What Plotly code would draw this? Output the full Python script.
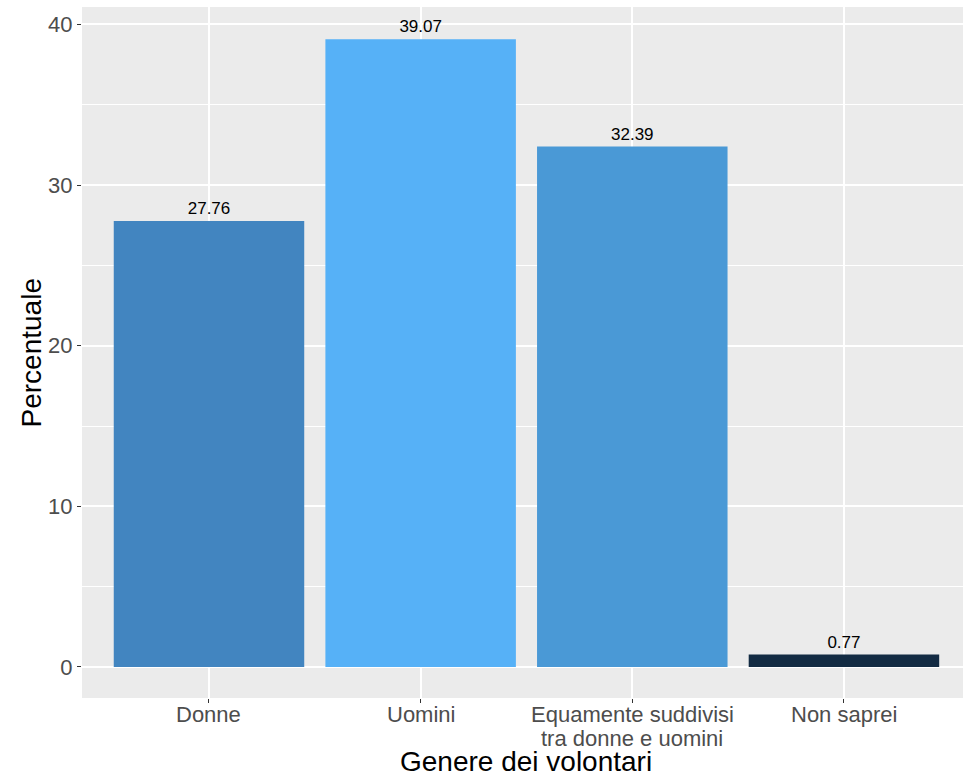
import plotly.graph_objects as go

categories = ["Donne", "Uomini", "Equamente suddivisi<br>tra donne e uomini", "Non saprei"]
values = [27.76, 39.07, 32.39, 0.77]
labels = ["27.76", "39.07", "32.39", "0.77"]
colors = ["#4285C0", "#56B1F7", "#4A99D6", "#132B43"]
y_ticks = [0, 10, 20, 30, 40]

FONT = "Liberation Sans, Arial, sans-serif"

fig = go.Figure()
fig.add_trace(go.Bar(
    x=categories, y=values, text=labels, textposition="outside",
    marker=dict(color=colors, line=dict(width=0)), width=0.9,
    textfont=dict(size=17, color="black", family=FONT),
    cliponaxis=False, showlegend=False,
))

# x tick labels as annotations (tighter line spacing like the reference)
line_y = [-0.0242, -0.0579]
annotations = []
for cat in categories:
    for i, line in enumerate(cat.split("<br>")):
        annotations.append(dict(
            text=line, x=cat, xref="x", yref="paper", y=line_y[i],
            xanchor="center", yanchor="middle", showarrow=False,
            font=dict(size=22, color="#4D4D4D", family=FONT),
        ))
annotations += [
    dict(text="Genere dei volontari", xref="paper", yref="paper", x=0.504, y=-0.0912,
         xanchor="center", yanchor="middle", showarrow=False,
         font=dict(size=28, color="black", family=FONT)),
    dict(text="Percentuale", xref="paper", yref="paper", x=-0.0568, y=0.5,
         xanchor="center", yanchor="middle", showarrow=False, textangle=-90,
         font=dict(size=28, color="black", family=FONT)),
]

fig.update_layout(
    width=963, height=777,
    margin=dict(l=82, r=0, t=7, b=79, autoexpand=False),
    paper_bgcolor="white", plot_bgcolor="#EBEBEB",
    font=dict(family=FONT, color="#4D4D4D"),
    bargap=0.1,
    uniformtext=dict(minsize=17, mode="show"),
    xaxis=dict(
        range=[-0.6, 3.5625], showgrid=True, gridcolor="white", gridwidth=1.5,
        ticks="outside", ticklen=4, tickcolor="#333333", tickwidth=1,
        showticklabels=False, zeroline=False, showline=False,
        automargin=False,
    ),
    yaxis=dict(
        range=[-1.93, 41.08], tickvals=y_ticks, showgrid=True, gridcolor="white", gridwidth=1.5,
        ticks="outside", ticklen=4, tickcolor="#333333", tickwidth=1,
        tickfont=dict(size=22, color="#4D4D4D"), zeroline=False, showline=False,
        automargin=False,
        minor=dict(tickvals=[5, 15, 25, 35], showgrid=True, gridcolor="white", gridwidth=0.7, ticks=""),
    ),
    annotations=annotations,
)

fig.write_html("out.html", config={"displayModeBar": False},
               post_script="document.body.style.margin='0';document.body.style.overflow='hidden';")
